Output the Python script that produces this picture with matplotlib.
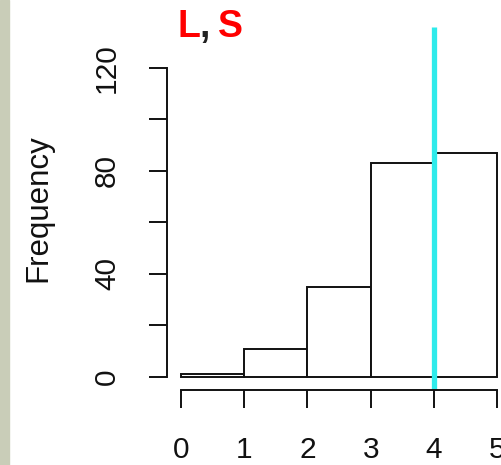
import matplotlib

matplotlib.use("Agg")
import matplotlib.pyplot as plt
from matplotlib.patches import Rectangle

# ── Data ──────────────────────────────────────────────────────────────────────

BIN_EDGES = [0, 1, 2, 3, 4, 5]
COUNTS = [1, 11, 35, 83, 87]
MARKER_X = 4
Y_TICKS = [0, 40, 80, 120]
Y_MINOR = [20, 60, 100]
X_TICKS = [0, 1, 2, 3, 4, 5]

# ── Style ─────────────────────────────────────────────────────────────────────

W, H = 502, 465
DPI = 100
CYAN = "#2EEBEB"
RED = "#FF0000"
STRIP = "#C9CDB8"
FONT = "Liberation Sans"

plt.rcParams["font.family"] = [FONT, "DejaVu Sans"]

fig = plt.figure(figsize=(W / DPI, H / DPI), dpi=DPI)
fig.patch.set_facecolor("white")

# grey-green strip on the left edge
fig.patches.append(
    Rectangle((0, 0), 9 / W, 1, transform=fig.transFigure, color=STRIP, zorder=0)
)

# axes box in pixels: left 167, right 510 (cut off), top 27, bottom 390
ax = fig.add_axes([167 / W, (H - 390) / H, (510 - 167) / W, (390 - 27) / H])
ax.set_facecolor("none")

widths = [b - a for a, b in zip(BIN_EDGES[:-1], BIN_EDGES[1:])]
ax.bar(
    BIN_EDGES[:-1],
    COUNTS,
    width=widths,
    align="edge",
    facecolor="white",
    edgecolor="#111111",
    linewidth=1.4,
)
ax.axvline(MARKER_X, color=CYAN, linewidth=3.8, solid_capstyle="butt")

ax.set_xlim(-0.22, 5.2)
ax.set_ylim(-5.05, 135.9)

for side in ("top", "right"):
    ax.spines[side].set_visible(False)
ax.spines["left"].set_bounds(0, 120)
ax.spines["bottom"].set_bounds(0, 5)
for side in ("left", "bottom"):
    ax.spines[side].set_linewidth(1.4)
    ax.spines[side].set_color("#111111")

ax.set_yticks(Y_TICKS + Y_MINOR)
ax.set_yticklabels([str(v) for v in Y_TICKS] + [""] * len(Y_MINOR))
ax.set_xticks(X_TICKS)
ax.set_xticklabels([str(v) for v in X_TICKS])
ax.tick_params(
    axis="both", length=13, width=1.4, color="#111111", labelsize=21.5,
    labelcolor="#111111",
)
ax.tick_params(axis="y", pad=20)
ax.tick_params(axis="x", pad=20)
for lbl in ax.get_yticklabels():
    lbl.set_rotation(90)
    lbl.set_va("center")

fig.text(38 / W, 1 - 208 / H, "Frequency", rotation=90, ha="center",
         va="center", fontsize=22.5, color="#111111")

# title "L, S" with a black comma
fig.text(178 / W, 1 - 37 / H, "L", color=RED, fontsize=27,
         fontweight="bold", ha="left", va="baseline")
fig.text(199 / W, 1 - 37 / H, ",", color="#222222", fontsize=27,
         fontweight="bold", ha="left", va="baseline")
fig.text(218 / W, 1 - 37 / H, "S", color=RED, fontsize=27,
         fontweight="bold", ha="left", va="baseline")

fig.savefig("out.png", dpi=DPI)
